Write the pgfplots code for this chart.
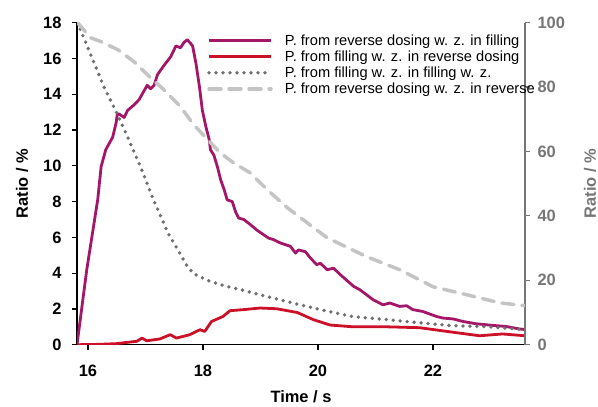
\documentclass[border=0pt]{standalone}
\usepackage{pgfplots}
\pgfplotsset{compat=1.18}
\usepackage{fontspec}
\setmainfont{Liberation Sans}
\definecolor{cpurple}{RGB}{163,22,104}
\definecolor{cred}{RGB}{204,16,40}
\definecolor{cdot}{RGB}{112,112,112}
\definecolor{cdash}{RGB}{196,196,196}
\definecolor{raxis}{RGB}{118,118,118}
\begin{document}
\begin{tikzpicture}
\pgfplotsset{
  base/.style={
    width=448bp, height=322bp, scale only axis,
    xmin=15.81, xmax=23.6,
    tick align=outside, major tick length=5bp,
    /pgf/number format/assume math mode=true,
    ticklabel style={font=\fontsize{16.5}{18}\selectfont\bfseries},
    label style={font=\fontsize{16.5}{18}\selectfont\bfseries},
  },
  purp/.style={cpurple, line width=2.8bp, line join=round},
  redl/.style={cred, line width=2.8bp, line join=round},
  dotl/.style={cdot, line width=3.8bp, line cap=round, dash pattern=on 0bp off 7bp},
  dashl/.style={cdash, line width=3.5bp, line cap=round, dash pattern=on 12bp off 8bp},
}
\begin{axis}[base, name=ax1,
  ymin=0, ymax=18,
  axis x line*=bottom, axis y line*=left,
  axis line style={black, line width=1.5bp},
  tick style={black, line width=1.2bp},
  xtick={16,18,20,22}, ytick={0,2,...,18},
  xticklabel style={yshift=-12bp},
  yticklabel style={xshift=-7bp},
  xlabel={Time / s}, ylabel={Ratio / \%},
  xlabel style={at={(axis description cs:0.5,0)}, anchor=base, yshift=-58bp},
  ylabel style={at={(axis description cs:-0.1228,0.5)}, anchor=center},
]
\addplot[purp] coordinates {
(15.81,0) (15.98,4.2) (16.17,8.1) (16.23,9.96) (16.31,10.9) (16.43,11.6) (16.49,12.4)
(16.51,12.85) (16.54,12.9) (16.63,12.7) (16.69,13.1) (16.80,13.4) (16.89,13.7)
(17.03,14.5) (17.09,14.3) (17.15,14.5) (17.21,15.1) (17.32,15.6) (17.44,16.1)
(17.53,16.7) (17.61,16.6) (17.67,16.9) (17.73,17.05) (17.82,16.7) (17.88,15.7)
(17.94,14.4) (17.99,13.1) (18.05,12.2) (18.11,11.45) (18.13,10.9) (18.19,10.6)
(18.25,9.96) (18.31,9.2) (18.37,8.66) (18.42,8.1) (18.51,8.0) (18.57,7.4)
(18.62,7.08) (18.71,7.0) (18.83,6.7) (18.94,6.4) (19.14,5.96) (19.23,5.87)
(19.35,5.68) (19.52,5.5) (19.61,5.12) (19.66,5.3) (19.78,5.2) (19.87,4.84)
(19.98,4.47) (20.04,4.56) (20.16,4.19) (20.27,4.28) (20.39,3.91) (20.62,3.26)
(20.73,3.07) (20.96,2.51) (21.13,2.23) (21.25,2.33) (21.42,2.14) (21.54,2.18)
(21.65,1.96) (21.82,1.86) (22.06,1.58) (22.17,1.49) (22.35,1.44) (22.52,1.30)
(22.75,1.17) (23.04,1.08) (23.27,1.02) (23.50,0.88) (23.6,0.85)
};
\addplot[redl] coordinates {
(15.82,0) (16.2,0.02) (16.5,0.06) (16.68,0.13) (16.85,0.19) (16.94,0.37) (17.02,0.22)
(17.25,0.32) (17.43,0.56) (17.54,0.37) (17.77,0.56) (17.95,0.84) (18.03,0.74)
(18.15,1.3) (18.35,1.58) (18.47,1.9) (18.70,1.96) (18.99,2.05) (19.28,2.01)
(19.64,1.8) (19.92,1.4) (20.21,1.1) (20.61,1.0) (21.2,1.0) (21.77,0.95)
(22.34,0.7) (22.81,0.5) (23.21,0.6) (23.6,0.5)
};
\end{axis}
\begin{axis}[base,
  ymin=0, ymax=100,
  axis y line*=right, axis x line=none,
  y axis line style={raxis, line width=1.5bp},
  ytick style={raxis, line width=1.2bp},
  yticklabel style={raxis, xshift=4bp},
  ytick={0,20,...,100},
  ylabel={Ratio / \%},
  ylabel style={raxis, at={(axis description cs:1.145,0.5)}, anchor=center},
  legend style={at={(rel axis cs:0.29,0.97)}, anchor=north west, draw=none, fill=none,
    font=\fontsize{14.7}{15.5}\selectfont, row sep=0bp, column sep=10bp, inner sep=0pt,
    nodes={inner sep=2bp}},
  legend cell align=left,
  legend image code/.code={\draw[#1] (0bp,0bp) -- (62bp,0bp);},
]
\addlegendimage{purp}
\addlegendentry{P. from reverse dosing w. z. in filling}
\addlegendimage{redl}
\addlegendentry{P. from filling w. z. in reverse dosing}
\addplot[dotl] coordinates {
(15.82,100) (16.05,90) (16.28,80) (16.5,72) (16.69,64.5) (16.92,55) (17.14,45)
(17.39,34.8) (17.61,28) (17.73,24.3) (17.84,22.0) (18.12,19.7) (18.41,18.1)
(18.70,16.9) (18.99,15.5) (19.28,14.2) (19.69,12.4) (20.04,10.9) (20.61,8.7)
(21.20,7.8) (21.77,6.8) (22.34,5.9) (22.93,5.6) (23.6,4.7)
};
\addlegendentry{P. from filling w. z. in filling w. z.}
\addplot[dashl] coordinates {
(15.82,100) (16.05,95.3) (16.23,94.1) (16.52,91.6) (16.80,87.9) (17.09,82.9)
(17.32,79.2) (17.61,73.9) (17.84,68.3) (18.08,63.7) (18.30,59.6) (18.53,56.5)
(18.82,53.4) (19.12,48.1) (19.47,42.5) (19.81,37.9) (20.16,33.2) (20.85,27.3)
(21.42,23.3) (22.00,18.0) (22.59,15.5) (23.16,13.0) (23.6,12.1)
};
\addlegendentry{P. from reverse dosing w. z. in reverse}
\end{axis}
\pgfresetboundingbox
\path ([shift={(-77bp,-62bp)}]ax1.south west) rectangle ([shift={(73bp,22.7bp)}]ax1.north east);
\end{tikzpicture}
\end{document}
